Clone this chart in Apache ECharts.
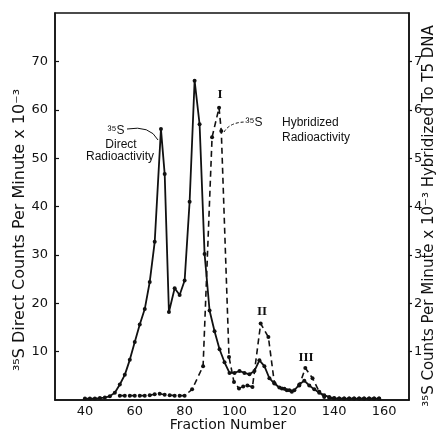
<!DOCTYPE html>
<html><head><meta charset="utf-8">
<script src="https://cdn.jsdelivr.net/npm/echarts@6/dist/echarts.min.js"></script>
<style>html,body{margin:0;padding:0;background:#fff}#c{width:443px;height:433px}</style>
</head><body><div id="c"></div>
<script>
const directFractions = [40,42,44,46,48,50,52,54,56,58,60,62,64,66,68,70.5,72,73.7,76,78,80,82,84,86,88,90,92,94,96,98,100,102,104,106,108,110,112,114,116,118,120,122,124,126,128,130,132,134,136,138,140,142,144,146,148,150,152,154,156,158];
const directValues = [0.3,0.3,0.3,0.4,0.5,0.8,1.5,3.2,5.2,8.3,12,15.6,18.8,24.4,32.7,56,46.7,18.2,23.1,21.7,24.7,41,66,57,30.2,18.5,14.2,10.5,7.8,5.6,5.6,6,5.6,5.3,6,8.2,7,4.5,3.4,2.6,2.3,2,2,3.2,4,3,2.2,1.5,1,0.6,0.4,0.3,0.3,0.3,0.3,0.3,0.3,0.3,0.3,0.3];
const hybridFractions = [54,56,58,60,62,64,66,68,70,72,74,76,78,80,83,87.4,91,93.8,94.7,97.8,99.8,101.8,103.5,105.2,107.2,110.5,113.6,116,119,121,123,126,128.4,131.3,134,136,138,140,142,144,146,148,150,152,154,156,158];
const hybridValues = [0.09,0.09,0.09,0.09,0.09,0.09,0.1,0.12,0.13,0.11,0.1,0.09,0.09,0.09,0.22,0.7,5.43,6.04,5.56,0.89,0.37,0.24,0.28,0.3,0.27,1.58,1.3,0.35,0.24,0.2,0.17,0.3,0.66,0.45,0.17,0.06,0.04,0.03,0.03,0.03,0.03,0.03,0.03,0.03,0.03,0.03,0.03];
const xTickLabels = [40,60,80,100,120,140,160];
const leftTickLabels = [10,20,30,40,50,60,70];
const rightTickLabels = [1,2,3,4,5,6,7];

const chart = echarts.init(document.getElementById('c'), null, {renderer:'canvas'});
const pair = (xs, ys) => xs.map((x, i) => [x, ys[i]]);
const ink = '#111';
const tickFont = 'DejaVu Sans';
const noteFont = 'Liberation Sans';

function txt(x, y, text, font, rot) {
  return {type:'text', x:x, y:y, rotation: rot || 0,
    style:{text:text, font:font, fill:ink, align:'center', verticalAlign:'middle', textAlign:'center', textVerticalAlign:'middle'}};
}

const option = {
  animation:false,
  backgroundColor:'#fff',
  grid:{left:55, right:34, top:13, bottom:33, show:true, borderColor:ink, borderWidth:1.5, backgroundColor:'transparent'},
  xAxis:{type:'value', min:28, max:170,
    axisLine:{show:true, lineStyle:{color:ink, width:1.5}},
    axisTick:{show:false},
    splitLine:{show:false},
    axisLabel:{customValues:xTickLabels, color:ink, fontFamily:tickFont, fontSize:13, margin:5}},
  yAxis:[
    {type:'value', min:0, max:80, interval:10, position:'left',
      axisLine:{show:true, lineStyle:{color:ink, width:1.5}},
      axisTick:{show:true, inside:true, length:4, customValues:leftTickLabels, lineStyle:{color:ink, width:1.2}},
      splitLine:{show:false},
      axisLabel:{customValues:leftTickLabels, color:ink, fontFamily:tickFont, fontSize:13, margin:7}},
    {type:'value', min:0, max:8, interval:1, position:'right',
      axisLine:{show:true, lineStyle:{color:ink, width:1.5}},
      axisTick:{show:true, inside:false, length:3, customValues:rightTickLabels, lineStyle:{color:ink, width:1.2}},
      splitLine:{show:false},
      axisLabel:{customValues:rightTickLabels, color:ink, fontFamily:tickFont, fontSize:13, margin:5}}
  ],
  series:[
    {type:'line', name:'direct', yAxisIndex:0, data:pair(directFractions, directValues),
      symbol:'circle', symbolSize:4, lineStyle:{color:ink, width:1.8}, itemStyle:{color:ink}, z:3},
    {type:'line', name:'hybrid', yAxisIndex:1, data:pair(hybridFractions, hybridValues),
      symbol:'circle', symbolSize:4, lineStyle:{color:ink, width:1.6, type:[6,4]}, itemStyle:{color:ink}, z:2}
  ],
  graphic:[
    txt(20, 230, '³⁵S Direct Counts Per Minute x 10⁻³', '16px ' + tickFont, Math.PI/2),
    txt(429, 216, '³⁵S Counts Per Minute x 10⁻³ Hybridized To T5 DNA', '15px ' + tickFont, Math.PI/2),
    txt(228, 425, 'Fraction Number', '14px ' + tickFont),
    txt(116, 131, '³⁵S', '12px ' + noteFont),
    txt(121, 145, 'Direct', '12px ' + noteFont),
    txt(120, 157, 'Radioactivity', '12px ' + noteFont),
    {type:'bezierCurve', shape:{x1:127, y1:129, cpx1:150, cpy1:125, x2:158, y2:140}, style:{stroke:ink, lineWidth:1, fill:null}},
    txt(254, 123, '³⁵S', '12px ' + noteFont),
    {type:'bezierCurve', shape:{x1:224, y1:132, cpx1:230, cpy1:122, x2:246, y2:122}, style:{stroke:ink, lineWidth:1, fill:null, lineDash:[3,2]}},
    {type:'text', x:282, y:123, style:{text:'Hybridized', font:'12px ' + noteFont, fill:ink, align:'left', verticalAlign:'middle', textAlign:'left', textVerticalAlign:'middle'}},
    {type:'text', x:282, y:138, style:{text:'Radioactivity', font:'12px ' + noteFont, fill:ink, align:'left', verticalAlign:'middle', textAlign:'left', textVerticalAlign:'middle'}},
    txt(220, 95, 'I', 'bold 13px Liberation Serif'),
    txt(262, 312, 'II', 'bold 13px Liberation Serif'),
    txt(306, 358, 'III', 'bold 13px Liberation Serif')
  ]
};
chart.setOption(option);
</script></body></html>
